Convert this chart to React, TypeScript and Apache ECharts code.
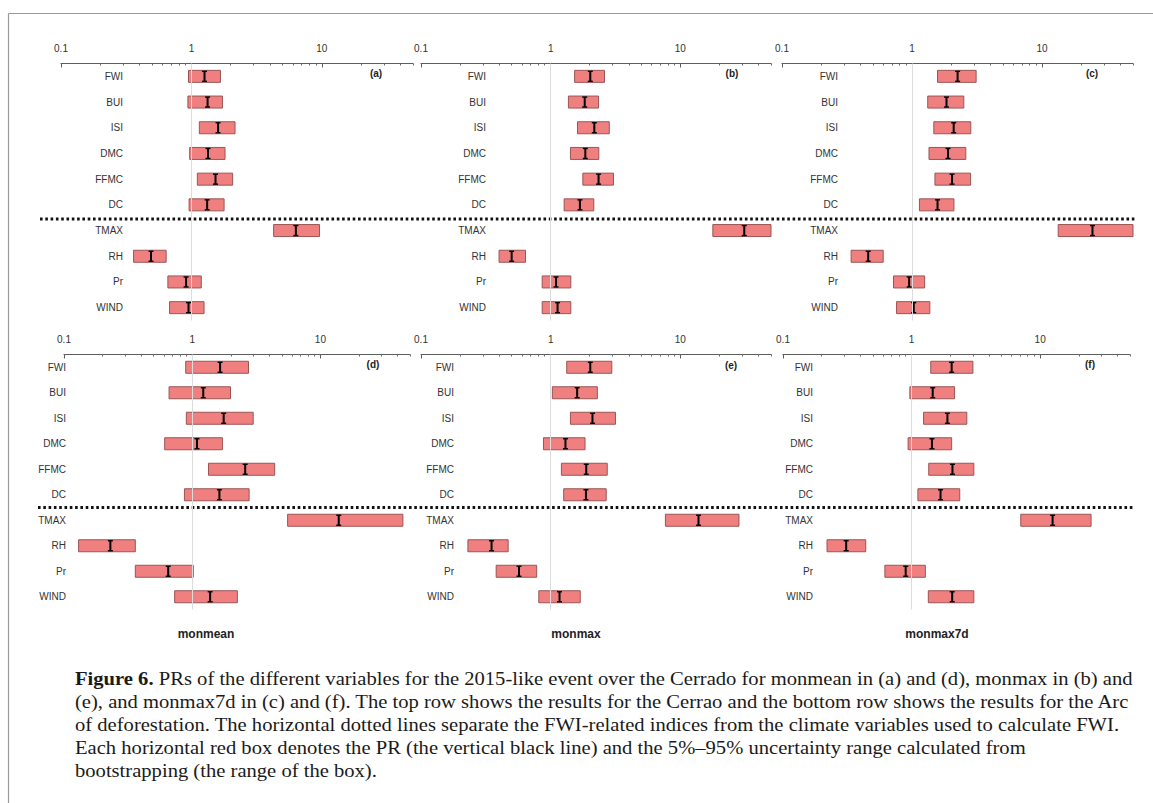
import React, { useEffect, useRef } from "react";
import * as echarts from "echarts";

const CATEGORIES = ["FWI", "BUI", "ISI", "DMC", "FFMC", "DC", "TMAX", "RH", "Pr", "WIND"];

const MAJOR_TICKS = [0.1, 1, 10];
const MINOR_TICKS = [0.2, 0.3, 0.4, 0.5, 0.6, 0.7, 0.8, 0.9, 2, 3, 4, 5, 6, 7, 8, 9, 20, 30, 40, 50];
const AXIS_MIN = 0.1;
const AXIS_MAX = 50;

// (a) monmean, Cerrado
const A_LOW = [0.95, 0.94, 1.15, 0.97, 1.11, 0.96, 4.27, 0.36, 0.66, 0.68];
const A_PR = [1.26, 1.33, 1.6, 1.34, 1.53, 1.32, 6.32, 0.49, 0.91, 0.95];
const A_HIGH = [1.67, 1.73, 2.16, 1.81, 2.07, 1.78, 9.6, 0.64, 1.19, 1.25];
// (b) monmax, Cerrado
const B_LOW = [1.53, 1.37, 1.61, 1.42, 1.77, 1.27, 17.8, 0.4, 0.86, 0.86];
const B_PR = [2.02, 1.83, 2.17, 1.85, 2.34, 1.68, 31.1, 0.5, 1.1, 1.13];
const B_HIGH = [2.6, 2.34, 2.83, 2.35, 3.05, 2.15, 50, 0.64, 1.43, 1.43];
// (c) monmax7d, Cerrado
const C_LOW = [1.57, 1.32, 1.47, 1.35, 1.5, 1.14, 13.3, 0.34, 0.72, 0.76];
const C_PR = [2.24, 1.84, 2.09, 1.89, 2.03, 1.57, 24.4, 0.46, 0.95, 1.03];
const C_HIGH = [3.11, 2.5, 2.83, 2.59, 2.82, 2.1, 50, 0.6, 1.25, 1.37];
// (d) monmean, Arc of deforestation
const D_LOW = [0.89, 0.66, 0.9, 0.61, 1.34, 0.87, 5.55, 0.13, 0.36, 0.73];
const D_PR = [1.65, 1.22, 1.76, 1.09, 2.59, 1.63, 13.9, 0.23, 0.65, 1.38];
const D_HIGH = [2.75, 1.99, 2.99, 1.72, 4.4, 2.78, 44, 0.36, 1.02, 2.25];
// (e) monmax, Arc of deforestation
const E_LOW = [1.33, 1.03, 1.42, 0.88, 1.21, 1.26, 7.67, 0.23, 0.38, 0.81];
const E_PR = [2.02, 1.6, 2.1, 1.3, 1.88, 1.87, 13.8, 0.35, 0.57, 1.17];
const E_HIGH = [2.96, 2.29, 3.16, 1.84, 2.73, 2.68, 28.3, 0.47, 0.78, 1.69];
// (f) monmax7d, Arc of deforestation
const F_LOW = [1.41, 0.97, 1.24, 0.94, 1.36, 1.12, 7.07, 0.22, 0.62, 1.35];
const F_PR = [2.05, 1.46, 1.9, 1.44, 2.08, 1.68, 12.5, 0.31, 0.9, 2.07];
const F_HIGH = [3.0, 2.16, 2.69, 2.05, 3.05, 2.37, 24.9, 0.44, 1.28, 3.05];

const PANEL_TAGS = ["(a)", "(b)", "(c)", "(d)", "(e)", "(f)"];
const COLUMN_TITLES = ["monmean", "monmax", "monmax7d"];

const CAPTION_LINES = [
  "(e), and monmax7d in (c) and (f). The top row shows the results for the Cerrao and the bottom row shows the results for the Arc",
  "of deforestation. The horizontal dotted lines separate the FWI-related indices from the climate variables used to calculate FWI.",
  "Each horizontal red box denotes the PR (the vertical black line) and the 5%\u201395% uncertainty range calculated from",
  "bootstrapping (the range of the box).",
];
const CAPTION_BOLD = "Figure 6.";
const CAPTION_FIRST = " PRs of the different variables for the 2015-like event over the Cerrado for monmean in (a) and (d), monmax in (b) and";

const PANEL_DATA = [
  [A_LOW, A_PR, A_HIGH],
  [B_LOW, B_PR, B_HIGH],
  [C_LOW, C_PR, C_HIGH],
  [D_LOW, D_PR, D_HIGH],
  [E_LOW, E_PR, E_HIGH],
  [F_LOW, F_PR, F_HIGH],
];

// layout (pixels)
const LAYOUT = [
  { left: 61, right: 413, top: 63.5, height: 257, labelRight: 123, tagX: 376, tagY: 73 },
  { left: 421, right: 771, top: 63.5, height: 257, labelRight: 486, tagX: 732, tagY: 73 },
  { left: 782, right: 1133, top: 63.5, height: 257, labelRight: 838, tagX: 1092, tagY: 73 },
  { left: 64, right: 410, top: 354.5, height: 255, labelRight: 66, tagX: 373, tagY: 364.5 },
  { left: 421, right: 771, top: 354.5, height: 255, labelRight: 454, tagX: 731, tagY: 365 },
  { left: 783, right: 1130, top: 354.5, height: 255, labelRight: 813, tagX: 1090, tagY: 364.5 },
];
const TITLE_X = [206, 576, 937];
const SANS = '"Liberation Sans", Arial, Helvetica, sans-serif';
const SERIF = '"Liberation Serif", "Times New Roman", serif';

function fmtTick(v: number) {
  return v < 0.5 ? "0.1" : String(Math.round(v));
}

function buildOption() {
  const grid: any[] = [];
  const xAxis: any[] = [];
  const yAxis: any[] = [];
  const series: any[] = [];
  const graphic: any[] = [];

  LAYOUT.forEach((L, i) => {
    grid.push({ left: L.left, top: L.top, width: L.right - L.left, height: L.height, containLabel: false });
    xAxis.push({
      type: "log",
      logBase: 10,
      gridIndex: i,
      position: "top",
      min: AXIS_MIN,
      max: AXIS_MAX,
      axisLine: { show: true, lineStyle: { color: "#5e5e5e", width: 1.2 } },
      axisTick: { show: true, inside: true, length: 4, customValues: MAJOR_TICKS, lineStyle: { color: "#5e5e5e" } },
      axisLabel: {
        show: true,
        customValues: MAJOR_TICKS,
        formatter: (v: number) => fmtTick(v),
        margin: 10,
        fontSize: 10,
        fontFamily: SANS,
        color: "#333",
      },
      splitLine: { show: false },
      minorTick: { show: false },
    });
    xAxis.push({
      type: "log",
      logBase: 10,
      gridIndex: i,
      position: "top",
      offset: 0,
      min: AXIS_MIN,
      max: AXIS_MAX,
      axisLine: { show: false },
      axisTick: { show: true, inside: true, length: 2, customValues: MINOR_TICKS, lineStyle: { color: "#6b6b6b" } },
      axisLabel: { show: false },
      splitLine: { show: false },
    });
    yAxis.push({
      type: "category",
      gridIndex: i,
      data: CATEGORIES,
      inverse: true,
      position: "left",
      offset: -(L.labelRight - L.left),
      axisLine: { show: false },
      axisTick: { show: false },
      axisLabel: { margin: 0, fontSize: 10, fontFamily: SANS, color: "#333" },
      splitLine: { show: false },
    });

    const [lo, pr, hi] = PANEL_DATA[i];
    // reference line at PR = 1
    series.push({
      type: "line",
      xAxisIndex: 2 * i,
      yAxisIndex: i,
      data: [],
      z: 1,
      silent: true,
      markLine: {
        silent: true,
        symbol: ["none", "none"],
        label: { show: false },
        lineStyle: { color: "#dcdcdc", width: 1, type: "solid" },
        data: [{ xAxis: 1 }],
      },
    });
    series.push({
      type: "custom",
      xAxisIndex: 2 * i,
      yAxisIndex: i,
      z: 3,
      encode: { x: [0, 1, 2], y: 3 },
      data: CATEGORIES.map((c, k) => [lo[k], pr[k], hi[k], c]),
      renderItem: (params: any, api: any) => {
        const cat = api.value(3);
        const a = api.coord([api.value(0), cat]);
        const m = api.coord([api.value(1), cat]);
        const b = api.coord([api.value(2), cat]);
        const h = 12;
        const y = a[1];
        const t = y - h / 2 + 1;
        const u = y + h / 2 - 1;
        return {
          type: "group",
          children: [
            {
              type: "rect",
              shape: { x: a[0], y: y - h / 2, width: b[0] - a[0], height: h },
              style: { fill: "#F08080", stroke: "#9a5454", lineWidth: 1 },
            },
            { type: "line", shape: { x1: m[0], y1: t, x2: m[0], y2: u }, style: { stroke: "#000", lineWidth: 2 } },
            { type: "line", shape: { x1: m[0] - 2.5, y1: t, x2: m[0] + 2.5, y2: t }, style: { stroke: "#000", lineWidth: 1.4 } },
            { type: "line", shape: { x1: m[0] - 2.5, y1: u, x2: m[0] + 2.5, y2: u }, style: { stroke: "#000", lineWidth: 1.4 } },
          ],
        };
      },
    });

    graphic.push({
      type: "text",
      x: L.tagX,
      y: L.tagY,
      z: 10,
      style: { text: PANEL_TAGS[i], fontFamily: SANS, fontSize: 10, fontWeight: "bold", fill: "#222", align: "center", verticalAlign: "middle" },
    });
  });

  // frame
  graphic.push({ type: "line", shape: { x1: 8.5, y1: 13.5, x2: 8.5, y2: 803 }, style: { stroke: "#9a9a9a", lineWidth: 1.2 } });
  graphic.push({ type: "line", shape: { x1: 8.5, y1: 13.5, x2: 1153, y2: 13.5 }, style: { stroke: "#9a9a9a", lineWidth: 1.2 } });

  // dotted separators
  graphic.push({ type: "line", z: 5, shape: { x1: 40, y1: 219, x2: 1135, y2: 219 }, style: { stroke: "#111", lineWidth: 3, lineDash: [2.6, 2.7] } });
  graphic.push({ type: "line", z: 5, shape: { x1: 38, y1: 507.5, x2: 1133, y2: 507.5 }, style: { stroke: "#111", lineWidth: 3, lineDash: [2.6, 2.7] } });

  // column titles
  COLUMN_TITLES.forEach((t, i) => {
    graphic.push({
      type: "text",
      x: TITLE_X[i],
      y: 634,
      style: { text: t, fontFamily: SANS, fontSize: 12, fontWeight: "bold", fill: "#222", align: "center", verticalAlign: "middle" },
    });
  });

  // caption
  const capSize = 18;
  const capScale = 1.145;
  graphic.push({
    type: "text",
    x: 75,
    y: 679,
    scaleX: capScale,
    style: {
      text: "{b|" + CAPTION_BOLD + "}{n|" + CAPTION_FIRST + "}",
      fontFamily: SERIF,
      fontSize: capSize,
      fill: "#1a1a1a",
      verticalAlign: "middle",
      rich: {
        b: { fontFamily: SERIF, fontSize: capSize, fontWeight: "bold", fill: "#1a1a1a" },
        n: { fontFamily: SERIF, fontSize: capSize, fill: "#1a1a1a" },
      },
    },
  });
  CAPTION_LINES.forEach((line, k) => {
    graphic.push({
      type: "text",
      x: 75,
      y: 702 + 23 * k,
      scaleX: capScale,
      style: { text: line, fontFamily: SERIF, fontSize: capSize, fill: "#1a1a1a", verticalAlign: "middle" },
    });
  });

  return {
    animation: false,
    backgroundColor: "#ffffff",
    grid,
    xAxis,
    yAxis,
    series,
    graphic,
  };
}

export default function App() {
  const ref = useRef<HTMLDivElement | null>(null);
  useEffect(() => {
    if (!ref.current) return;
    const chart = echarts.init(ref.current, undefined, { renderer: "svg" });
    chart.setOption(buildOption() as any);
    return () => chart.dispose();
  }, []);
  return (
    <div
      ref={ref}
      style={{ position: "fixed", left: 0, top: 0, width: 1153, height: 803, background: "#fff" }}
    />
  );
}
